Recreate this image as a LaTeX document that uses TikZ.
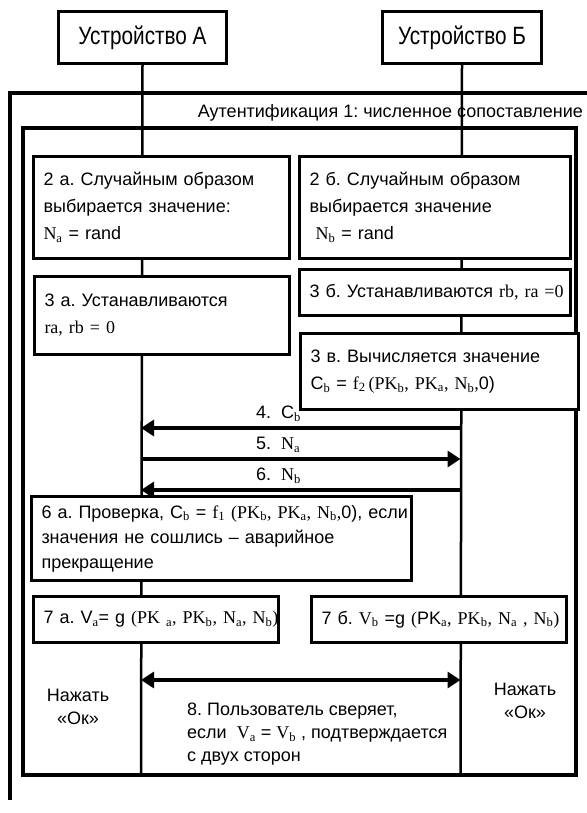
\documentclass[tikz,border=0pt]{standalone}
\usepackage{fontspec}
\setmainfont{Liberation Sans}
\newfontfamily\tms{Liberation Serif}
\newfontfamily\hdrfont[FakeStretch=0.83]{Liberation Sans}
\usetikzlibrary{arrows.meta}
\newcommand\tsub[1]{\textsubscript{\tms #1}}
\newcommand\tm[1]{{\tms #1}}
\frenchspacing
\begin{document}
\begin{tikzpicture}[x=1pt,y=-1pt,
  every node/.style={font=\fontsize{18}{27}\selectfont},
  box/.style={draw, line width=3pt, fill=white, anchor=north west, inner xsep=10pt, inner ysep=0pt, align=left},
  hdr/.style={draw, line width=3pt, fill=white, anchor=north west, inner sep=0pt, font=\hdrfont\fontsize{25}{28}\selectfont},
  life/.style={line width=2.5pt},
  frame/.style={line width=3.2pt},
  msg/.style={line width=4.5pt, -{Triangle[length=13pt,width=16pt]}},
  lbl/.style={inner sep=0pt, anchor=west},
]
\useasboundingbox (0,0) rectangle (586,813);
% devices
\node[hdr, minimum width=168pt, minimum height=52pt] (devA) at (57,10) {Устройство А};
\node[hdr, minimum width=159pt, minimum height=52pt] (devB) at (381,10) {Устройство Б};
% lifelines
\coordinate (Aend) at (141,775);
\coordinate (Bend) at (460.5,775);
\draw[life] (devA.south) -- (Aend);
\draw[life] (devB.south) -- (Bend);
% frames
\draw[frame] (10,800) -- (10,93) -- (590,93);
\draw[frame] (23,128) rectangle (576,775);
\node[anchor=east, inner sep=0pt] (authlbl) at (583,113) {Аутентификация 1: численное сопоставление};
% steps
\node[box, minimum width=256pt, minimum height=102pt, text width=236pt] (s2a) at (32,155)
  {2 а. Случайным образом\\выбирается значение:\\\tm{N}\tsub{a} = rand};
\node[box, minimum width=271pt, minimum height=102pt, text width=251pt] (s2b) at (298,155)
  {2 б. Случайным образом\\выбирается значение\\\ \tm{N}\tsub{b} = rand};
\node[box, minimum width=255pt, minimum height=78pt, text width=235pt] (s3a) at (33,275)
  {3 а. Устанавливаются\\\tm{ra, rb = 0}};
\node[box, minimum width=271pt, minimum height=46pt, text width=251pt] (s3b) at (298,268)
  {\mbox{3 б. Устанавливаются \tm{rb, ra =0}}};
\node[box, minimum width=278pt, minimum height=76pt, text width=258pt] (s3c) at (299,332)
  {3 в. Вычисляется значение\\C\tsub{b} = \tm{f\textsubscript{2}\,(PK\textsubscript{b}, PK\textsubscript{a}, N\textsubscript{b},}0)};
% messages
\coordinate (a4) at (141,428); \coordinate (b4) at (460.5,428);
\coordinate (a5) at (141,459); \coordinate (b5) at (460.5,459);
\coordinate (a6) at (141,490); \coordinate (b6) at (460.5,490);
\draw[msg] (b4) -- (a4);
\draw[msg] (a5) -- (b5);
\draw[msg] (b6) -- (a6);
\node[lbl] (l4) at (256,414) {4.\ \ C\tsub{b}};
\node[lbl] (l5) at (256,445) {5.\ \ \tm{N\textsubscript{a}}};
\node[lbl] (l6) at (256,476) {6.\ \ \tm{N\textsubscript{b}}};
\node[box, minimum width=380pt, minimum height=84pt, text width=360pt, font=\fontsize{18}{25}\selectfont] (s6a) at (30,495)
  {\mbox{6 а. Проверка, C\tsub{b} = \tm{f\textsubscript{1} (PK\textsubscript{b}, PK\textsubscript{a}, N\textsubscript{b},}0), если}\\значения не сошлись – аварийное\\прекращение};
\node[box, minimum width=245pt, minimum height=46pt, text width=225pt] (s7a) at (32,595)
  {\mbox{7 а. V\tsub{a}= g \tm{(PK\textsubscript{ a}, PK\textsubscript{b}, N\textsubscript{a}, N\textsubscript{b})}}};
\node[box, minimum width=255pt, minimum height=46pt, text width=235pt] (s7b) at (310,595)
  {\mbox{7 б. \tm{V\textsubscript{b}} =g \tm{(}PK\tsub{a}\tm{, PK\textsubscript{b}, N\textsubscript{a} , N\textsubscript{b})}}};
% confirmation
\coordinate (a8) at (141,680); \coordinate (b8) at (460.5,680);
\draw[line width=4.5pt, {Triangle[length=13pt,width=16pt]}-{Triangle[length=13pt,width=16pt]}] (a8) -- (b8);
\node[align=center, inner sep=0pt, font=\fontsize{18}{23}\selectfont] (okA) at (78,707) {Нажать\\«Ок»};
\node[align=center, inner sep=0pt, font=\fontsize{18}{23}\selectfont] (okB) at (525,701) {Нажать\\«Ок»};
\node[anchor=north west, align=left, inner sep=0pt, font=\fontsize{18}{23}\selectfont] (t8) at (187,703)
  {8. Пользователь сверяет,\\если \ \tm{V\textsubscript{a}} = \tm{V\textsubscript{b}} , подтверждается\\с двух сторон};
\end{tikzpicture}
\end{document}
